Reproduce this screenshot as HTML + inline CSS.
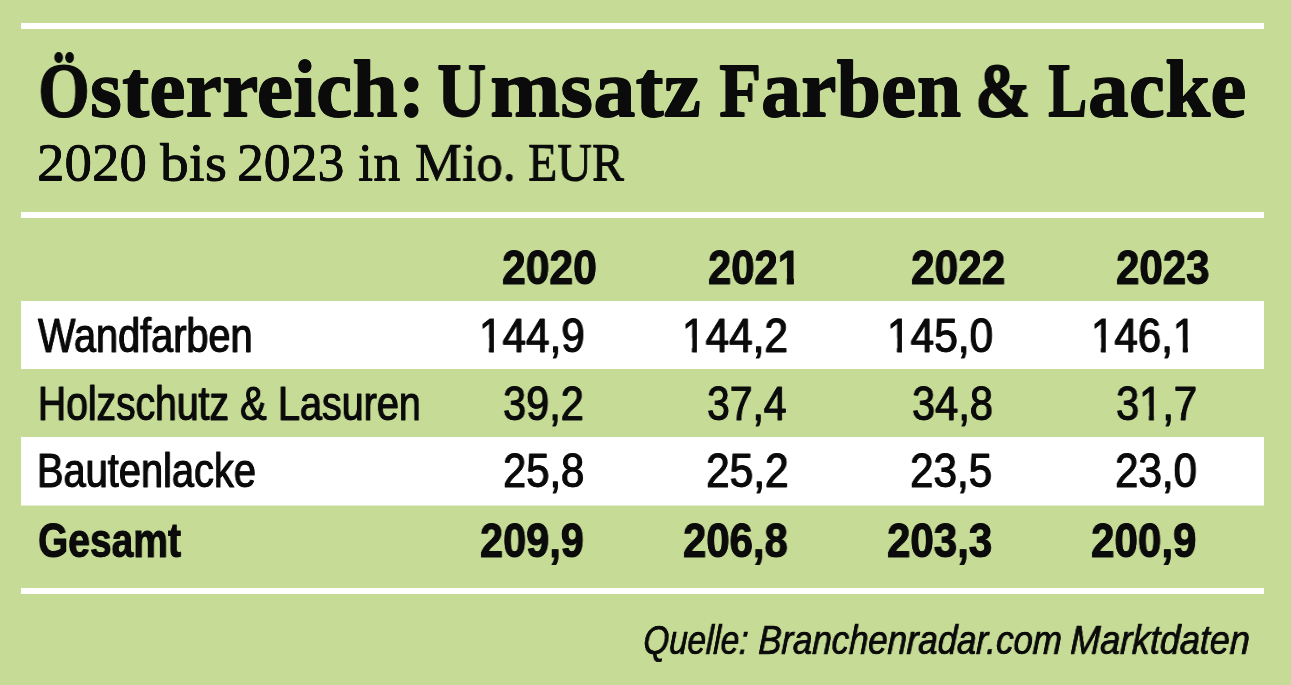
<!DOCTYPE html>
<html><head><meta charset="utf-8">
<style>
html,body{margin:0;padding:0;}
body{width:1291px;height:685px;background:#c6dc96;position:relative;overflow:hidden;font-family:"Liberation Sans",sans-serif;color:#0b0b0b;}
.ln{position:absolute;left:21px;width:1243px;height:6px;background:#fff;}
.row{position:absolute;left:21px;width:1243px;background:#fff;}
.t{position:absolute;white-space:nowrap;line-height:1;transform-origin:0 0;will-change:transform;}
.T{font-family:'Liberation Serif',serif;font-weight:bold;font-size:80px;-webkit-text-stroke:1.1px #0b0b0b;text-shadow:0 1px 0 #0b0b0b,0 -1px 0 #0b0b0b;}
.TC{font-family:'Liberation Serif',serif;font-weight:bold;font-size:76.5px;-webkit-text-stroke:1.1px #0b0b0b;text-shadow:0 1px 0 #0b0b0b,0 -1px 0 #0b0b0b;}
.S{font-family:'Liberation Serif',serif;font-size:53px;-webkit-text-stroke:0.5px #0b0b0b;text-shadow:0 0.5px 0 #0b0b0b,0 -0.5px 0 #0b0b0b;}
.R{font-size:47.5px;-webkit-text-stroke:0.8px #0b0b0b;text-shadow:0.6px 0 0 #0b0b0b,-0.6px 0 0 #0b0b0b;}
.B{font-weight:bold;font-size:48.6px;-webkit-text-stroke:0.9px #0b0b0b;text-shadow:0.35px 0 0 #0b0b0b,-0.35px 0 0 #0b0b0b;}
.N{font-size:48.6px;-webkit-text-stroke:0.8px #0b0b0b;text-shadow:0.6px 0 0 #0b0b0b,-0.6px 0 0 #0b0b0b;}
.NB{font-weight:bold;font-size:48.6px;-webkit-text-stroke:0.9px #0b0b0b;text-shadow:0.35px 0 0 #0b0b0b,-0.35px 0 0 #0b0b0b;}
.I{font-style:italic;font-size:39.8px;-webkit-text-stroke:0.5px #0b0b0b;text-shadow:0.3px 0 0 #0b0b0b,-0.3px 0 0 #0b0b0b;}
.c{font-size:76px;}.o{display:inline-block;clip-path:polygon(0 0,63% 0,63% 100%,43.2% 100%,43.2% 55%,0 55%);}.NB .o{clip-path:polygon(0 0,68.5% 0,68.5% 100%,40% 100%,40% 58%,0 58%);}
</style></head><body>
<div class="ln" style="top:23px"></div>
<div class="ln" style="top:212px"></div>
<div class="ln" style="top:588px"></div>
<div class="row" style="top:301px;height:68px"></div>
<div class="row" style="top:437px;height:68px"></div>
<div class="row" style="top:505px;height:1px;background:rgba(255,255,255,.5)"></div>
<div class="t TC" style="left:37.89px;top:53.02px;transform:scaleX(0.8702);">Ö</div>
<div class="t T" style="left:89.69px;top:49.02px;transform:scaleX(1.0243);">sterreich:</div>
<div class="t TC" style="left:437.01px;top:53.02px;transform:scaleX(0.8920);">U</div>
<div class="t T" style="left:489.90px;top:49.02px;transform:scaleX(1.0558);">msatz</div>
<div class="t TC" style="left:718.50px;top:53.02px;transform:scaleX(0.9056);">F</div>
<div class="t T" style="left:760.56px;top:49.02px;transform:scaleX(1.0009);">arben</div>
<div class="t TC" style="left:975.47px;top:53.02px;transform:scaleX(0.8751);">&amp;</div>
<div class="t TC" style="left:1048.47px;top:53.02px;transform:scaleX(0.7701);">L</div>
<div class="t T" style="left:1087.72px;top:49.02px;transform:scaleX(1.0197);">acke</div>
<div class="t S" style="left:36.69px;top:135.80px;transform:scaleX(1.0389);">2020</div>
<div class="t S" style="left:160.02px;top:135.80px;transform:scaleX(1.0857);">bis</div>
<div class="t S" style="left:236.85px;top:135.80px;transform:scaleX(1.0136);">2023</div>
<div class="t S" style="left:358.34px;top:135.80px;transform:scaleX(1.0296);">in</div>
<div class="t S" style="left:415.03px;top:135.80px;transform:scaleX(0.9943);">Mio.</div>
<div class="t S" style="left:527.94px;top:135.80px;transform:scaleX(0.9046);">EUR</div>
<div class="t R" style="left:37.50px;top:311.54px;transform:scaleX(0.8349);">Wandfarben</div>
<div class="t R" style="left:37.52px;top:379.54px;transform:scaleX(0.8218);">Holzschutz</div>
<div class="t R" style="left:239.97px;top:379.54px;transform:scaleX(0.8413);">&amp;</div>
<div class="t R" style="left:278.19px;top:379.54px;transform:scaleX(0.8317);">Lasuren</div>
<div class="t R" style="left:37.47px;top:447.34px;transform:scaleX(0.8374);">Bautenlacke</div>
<div class="t B" style="left:38.07px;top:515.52px;transform:scaleX(0.8020);">Gesamt</div>
<div class="t NB" style="left:502.49px;top:242.52px;transform:scaleX(0.8774);">2020</div>
<div class="t NB" style="left:707.52px;top:242.52px;transform:scaleX(0.8596);">202<span class=o>1</span></div>
<div class="t NB" style="left:911.10px;top:242.52px;transform:scaleX(0.8725);">2022</div>
<div class="t NB" style="left:1115.51px;top:242.52px;transform:scaleX(0.8645);">2023</div>
<div class="t N" style="left:478.72px;top:310.55px;transform:scaleX(0.8695);"><span class=o>1</span>44,9</div>
<div class="t N" style="left:682.32px;top:310.55px;transform:scaleX(0.8712);"><span class=o>1</span>44,2</div>
<div class="t N" style="left:886.51px;top:310.55px;transform:scaleX(0.8722);"><span class=o>1</span>45,0</div>
<div class="t N" style="left:1090.64px;top:310.55px;transform:scaleX(0.8649);"><span class=o>1</span>46,<span class=o>1</span></div>
<div class="t N" style="left:503.05px;top:378.55px;transform:scaleX(0.8537);">39,2</div>
<div class="t N" style="left:707.47px;top:378.55px;transform:scaleX(0.8402);">37,4</div>
<div class="t N" style="left:911.65px;top:378.55px;transform:scaleX(0.8554);">34,8</div>
<div class="t N" style="left:1116.05px;top:378.55px;transform:scaleX(0.8564);">3<span class=o>1</span>,7</div>
<div class="t N" style="left:502.57px;top:446.35px;transform:scaleX(0.8583);">25,8</div>
<div class="t N" style="left:706.14px;top:446.35px;transform:scaleX(0.8733);">25,2</div>
<div class="t N" style="left:910.35px;top:446.35px;transform:scaleX(0.8676);">23,5</div>
<div class="t N" style="left:1114.76px;top:446.35px;transform:scaleX(0.8658);">23,0</div>
<div class="t NB" style="left:479.53px;top:515.52px;transform:scaleX(0.8541);">209,9</div>
<div class="t NB" style="left:683.21px;top:515.52px;transform:scaleX(0.8617);">206,8</div>
<div class="t NB" style="left:887.41px;top:515.52px;transform:scaleX(0.8652);">203,3</div>
<div class="t NB" style="left:1091.21px;top:515.52px;transform:scaleX(0.8676);">200,9</div>
<div class="t I" style="left:642.63px;top:621.39px;transform:skewX(-2.3deg) scaleX(0.8320);transform-origin:0 33px;">Quelle:</div>
<div class="t I" style="left:757.74px;top:621.39px;transform:skewX(-2.3deg) scaleX(0.8714);transform-origin:0 33px;">Branchenradar.com</div>
<div class="t I" style="left:1070.19px;top:621.39px;transform:skewX(-2.3deg) scaleX(0.9006);transform-origin:0 33px;">Marktdaten</div>
</body></html>
